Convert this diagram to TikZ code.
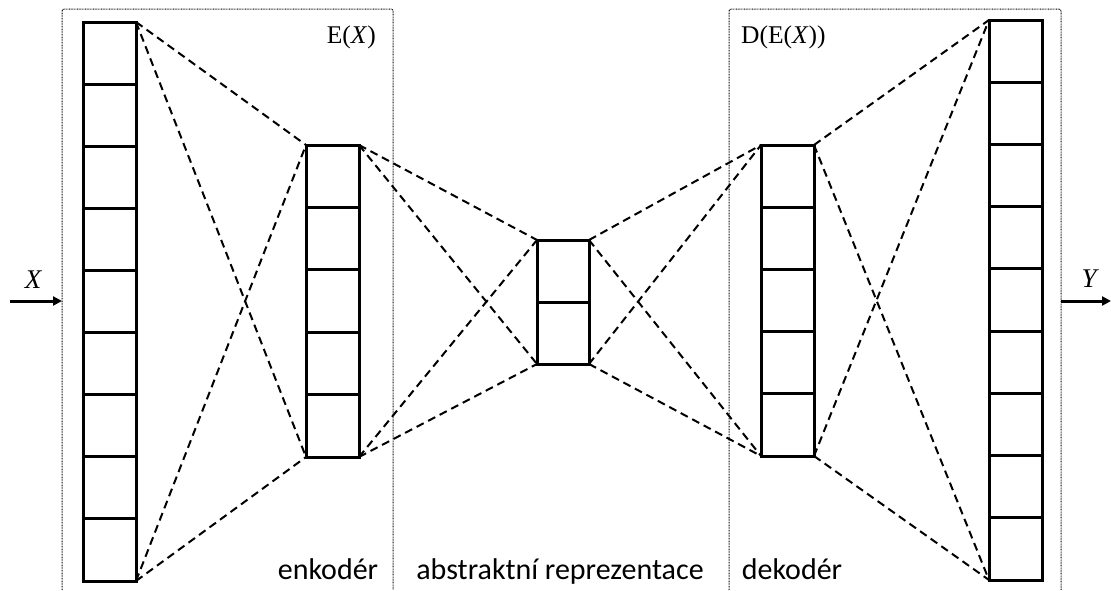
\documentclass[tikz,border=0pt]{standalone}
\usepackage{fontspec}
\newfontfamily\labelfont{Carlito}
\newfontfamily\fnfont{Liberation Serif}
\usetikzlibrary{arrows.meta,calc}

\tikzset{
  layer/.style={draw, line width=3pt, minimum width=53pt, inner sep=0pt, outer sep=0pt},
  cellline/.style={line width=3pt},
  link/.style={line width=2pt, dash pattern=on 8pt off 5pt},
  frame/.style={line width=1pt, dash pattern=on 0.8pt off 0.8pt, rounded corners=2pt},
  io/.style={line width=3pt, -{Triangle[length=9pt,width=9pt]}},
  caption/.style={font=\labelfont\fontsize{30}{36}\selectfont, inner sep=0pt},
  fn/.style={font=\fnfont\fontsize{25.5}{30}\selectfont, inner sep=0pt},
  var/.style={font=\fnfont\itshape\fontsize{27}{32}\selectfont, inner sep=0pt}
}

% draw the horizontal cell dividers of a layer
\newcommand\cells[2]{%
  \foreach \k in {1,...,#2}
    \draw[cellline] ($(#1.north west)!{\k/(#2+1)}!(#1.south west)$) --
                    ($(#1.north east)!{\k/(#2+1)}!(#1.south east)$);}

\begin{document}
\begin{tikzpicture}[x=1pt, y=-1pt]
\useasboundingbox (0,0) rectangle (1111,590);

% encoder / decoder frames (open at the bottom)
\draw[frame] (62,590) -- (62,9) -- (393,9) -- (393,590);
\draw[frame] (729,590) -- (729,9) -- (1061,9) -- (1061,590);

% layers
\node[layer, minimum height=559pt] (in)  at (109.5,301.5) {};
\node[layer, minimum height=312pt] (enc) at (332.5,301)   {};
\node[layer, minimum height=124pt, minimum width=52pt] (mid) at (563,302) {};
\node[layer, minimum height=311pt] (dec) at (787.5,300.5) {};
\node[layer, minimum height=560pt] (out) at (1015.5,300)  {};

\cells{in}{8}
\cells{enc}{4}
\cells{mid}{1}
\cells{dec}{4}
\cells{out}{8}

% connections between layers
\draw[link] (in.north east) -- (enc.north west);
\draw[link] (in.north east) -- (enc.south west);
\draw[link] (in.south east) -- (enc.north west);
\draw[link] (in.south east) -- (enc.south west);

\draw[link] (enc.north east) -- (mid.north west);
\draw[link] (enc.north east) -- (mid.south west);
\draw[link] (enc.south east) -- (mid.north west);
\draw[link] (enc.south east) -- (mid.south west);

\draw[link] (mid.north east) -- (dec.north west);
\draw[link] (mid.north east) -- (dec.south west);
\draw[link] (mid.south east) -- (dec.north west);
\draw[link] (mid.south east) -- (dec.south west);

\draw[link] (dec.north east) -- (out.north west);
\draw[link] (dec.north east) -- (out.south west);
\draw[link] (dec.south east) -- (out.north west);
\draw[link] (dec.south east) -- (out.south west);

% input and output
\coordinate (xs) at (10,301);
\coordinate (xe) at (62,301);
\coordinate (ys) at (1061,301);
\coordinate (ye) at (1111,301);
\draw[io] (xs) -- (xe);
\draw[io] (ys) -- (ye);
\node[var, anchor=base] (xl) at (33,288) {X};
\node[var, anchor=base] (yl) at (1089,287) {Y};

% function labels
\node[fn, anchor=base east] (ex) at (376,43) {E(\textit{X})};
\node[fn, anchor=base west] (dex) at (741,43) {D(E(\textit{X}))};

% part captions
\node[caption, anchor=base] (lenc) at (328,579) {enkodér};
\node[caption, anchor=base] (labs) at (560,579) {abstraktní reprezentace};
\node[caption, anchor=base] (ldec) at (792,579) {dekodér};
\end{tikzpicture}
\end{document}
